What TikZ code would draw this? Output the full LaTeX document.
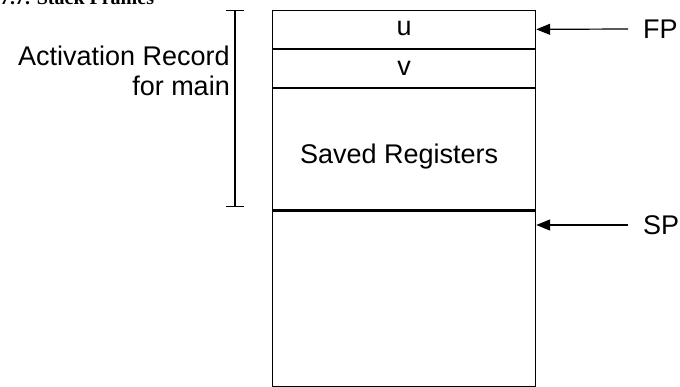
\documentclass[tikz,border=0pt]{standalone}
\usepackage{fontspec}
\setmainfont{Liberation Sans}
\newfontfamily\titlefont{Liberation Serif}
\usetikzlibrary{arrows.meta}
\begin{document}
\begin{tikzpicture}[x=1pt,y=-1pt,
  cell/.style={draw,line width=1.2pt,minimum width=263pt,inner sep=0pt,
    anchor=north west},
  txt/.style={font=\fontsize{27}{30}\selectfont,inner sep=0pt},
  ptr/.style={line width=1.2pt,-{Triangle[length=14pt,width=11pt]}},
  span/.style={line width=1.2pt,{Bar[width=18pt]}-{Bar[width=18pt]}}]
\useasboundingbox (0,0) rectangle (680,386);
\clip (0,0) rectangle (680,386);

% caption (runs off the top edge)
\node[anchor=base west,inner sep=0pt,
  font=\titlefont\bfseries\fontsize{20}{24}\selectfont] (title) at (0,4) {7.7. Stack Frames};

% stack cells, top to bottom
\node[cell,minimum height=37.5pt] (u) at (272,10) {};
\node[cell,minimum height=38pt] (v) at (u.south west) {};
\node[cell,minimum height=121.5pt] (saved) at (v.south west) {};
\node[cell,minimum height=175pt] (rest) at (saved.south west) {};

% cell contents
\node[txt] (uText) at ([yshift=1pt]u.center) {u};
\node[txt] (vText) at (v.center) {v};
\node[txt,anchor=base] (savedText) at ([xshift=-5pt,yshift=-14pt]saved.center) {Saved Registers};

% extent of the activation record
\coordinate (recTop) at (235,10);
\coordinate (recBot) at (235,207);
\draw[span] (recTop) -- (recBot);
\node[txt,anchor=base east,align=right] (rec) at (230,95) {Activation Record\\for main};

% frame and stack pointers
\node[txt,anchor=west] (fp) at (643,29) {FP};
\node[txt,anchor=west] (sp) at (643,225) {SP};
\coordinate (fpTail) at (628,29);
\coordinate (spTail) at (628,225);
\coordinate (spHead) at (rest.east |- spTail);
\draw[ptr] (fpTail) -- (u.east);
\draw[ptr] (spTail) -- (spHead);
\end{tikzpicture}
\end{document}
